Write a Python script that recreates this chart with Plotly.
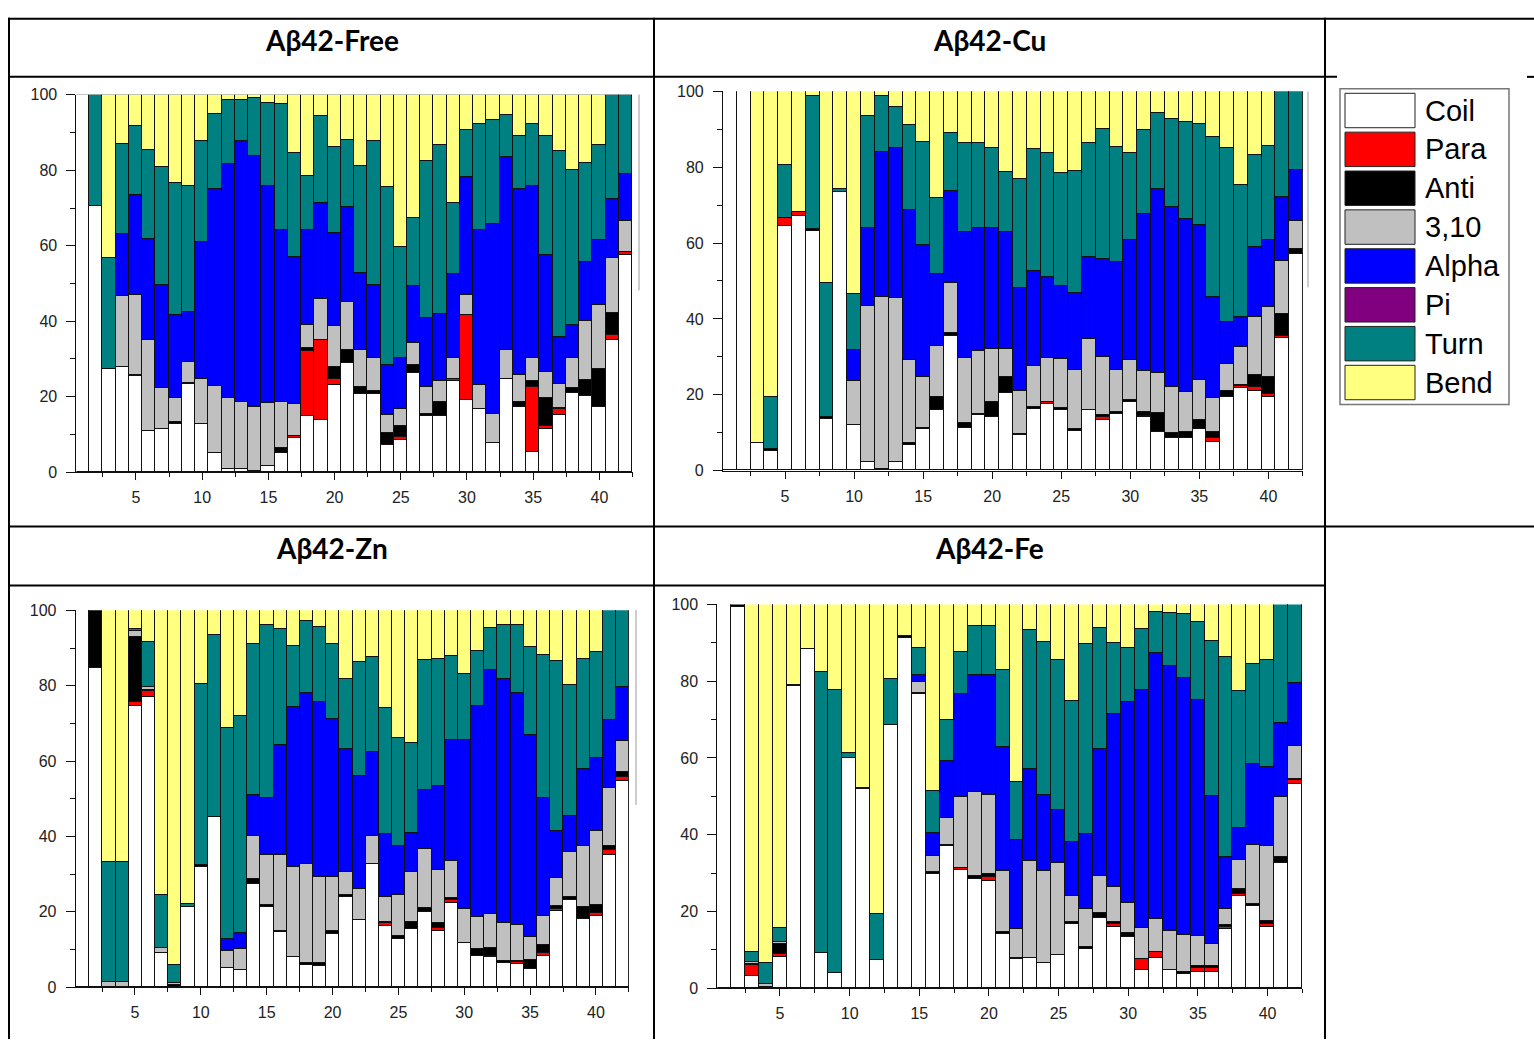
import numpy as np
import plotly.graph_objects as go

W, H = 1534, 1048

CATEGORIES = ["Coil", "Para", "Anti", "3,10", "Alpha", "Pi", "Turn", "Bend"]
COLORS = ["#FFFFFF", "#FF0000", "#000000", "#C0C0C0", "#0000FF", "#800080", "#008080", "#FFFF80"]
RESIDUES = list(range(1, 43))
X_TICKS = [5, 10, 15, 20, 25, 30, 35, 40]
Y_TICKS = [0, 20, 40, 60, 80, 100]
TITLES = ["Aβ42-Free", "Aβ42-Cu", "Aβ42-Zn", "Aβ42-Fe"]

# Cumulative upper boundary (%) of Coil, Para, Anti, 3,10, Alpha, Pi, Turn per residue;
# Bend fills the rest up to 100.
FREE_TOPS = [
    (100, 100, 100, 100, 100, 100, 100),
    (70.7, 70.7, 70.7, 70.7, 70.7, 70.7, 100),
    (27.3, 27.3, 27.3, 27.3, 27.3, 27.3, 56.8),
    (27.9, 27.9, 27.9, 46.6, 63.1, 63.1, 87.1),
    (25.4, 25.4, 25.8, 47.1, 73.5, 73.5, 91.8),
    (10.9, 10.9, 10.9, 35.0, 61.7, 61.7, 85.5),
    (11.5, 11.5, 11.5, 22.3, 49.7, 49.7, 81.0),
    (12.8, 12.8, 13.2, 19.6, 41.7, 41.7, 76.7),
    (23.3, 23.3, 23.7, 29.1, 42.6, 42.6, 76.0),
    (12.8, 12.8, 12.8, 24.6, 61.1, 61.1, 87.8),
    (5.0, 5.0, 5.0, 22.9, 75.0, 75.0, 95.0),
    (0.9, 0.9, 0.9, 19.7, 81.7, 81.7, 98.6),
    (0.9, 0.9, 0.9, 18.5, 87.7, 87.7, 98.8),
    (0.2, 0.2, 0.2, 17.4, 83.7, 83.7, 99.1),
    (1.7, 1.7, 1.7, 18.3, 76.0, 76.0, 98.0),
    (5.0, 5.0, 6.5, 18.5, 64.3, 64.3, 97.6),
    (9.0, 9.5, 9.5, 18.0, 57.0, 57.0, 84.5),
    (14.8, 32.2, 33.0, 38.9, 64.3, 64.3, 78.4),
    (13.9, 35.0, 35.0, 45.8, 71.3, 71.3, 94.4),
    (23.0, 24.8, 27.8, 38.7, 63.5, 63.5, 86.1),
    (29.0, 29.0, 32.3, 45.2, 70.4, 70.4, 88.1),
    (20.6, 20.6, 22.6, 32.4, 52.9, 52.9, 81.2),
    (20.6, 20.6, 21.6, 30.3, 49.6, 49.6, 87.8),
    (7.2, 7.2, 10.3, 15.2, 28.5, 28.5, 75.7),
    (8.5, 9.4, 12.3, 16.8, 30.2, 30.2, 59.6),
    (26.3, 26.3, 28.4, 34.3, 49.4, 49.4, 67.4),
    (14.8, 14.8, 15.5, 22.6, 40.9, 40.9, 82.6),
    (15.0, 15.0, 18.5, 24.2, 42.0, 42.0, 86.7),
    (24.3, 24.8, 24.8, 30.3, 52.6, 52.6, 71.3),
    (19.1, 41.6, 41.6, 47.0, 78.3, 78.3, 90.7),
    (16.7, 16.7, 16.7, 23.0, 64.3, 64.3, 92.3),
    (7.8, 7.8, 7.8, 15.5, 65.7, 65.7, 93.5),
    (24.8, 24.8, 24.8, 32.4, 83.5, 83.5, 94.8),
    (17.2, 17.2, 18.5, 25.8, 75.0, 75.0, 89.1),
    (5.4, 22.6, 24.2, 30.4, 75.8, 75.8, 92.2),
    (11.5, 12.2, 19.8, 26.5, 57.7, 57.7, 89.0),
    (15.2, 16.7, 17.1, 23.3, 35.9, 35.9, 85.2),
    (21.0, 21.0, 22.2, 30.3, 38.9, 38.9, 80.2),
    (20.3, 20.3, 24.5, 40.0, 55.7, 55.7, 82.0),
    (17.4, 17.4, 27.4, 44.3, 61.6, 61.6, 86.7),
    (35.0, 36.5, 42.3, 56.8, 72.5, 72.5, 100),
    (57.7, 58.3, 58.3, 66.5, 79.0, 79.0, 100),
]

CU_TOPS = [
    (100, 100, 100, 100, 100, 100, 100),
    (100, 100, 100, 100, 100, 100, 100),
    (7.1, 7.1, 7.1, 7.1, 7.1, 7.1, 7.1),
    (5.2, 5.2, 5.6, 5.6, 5.6, 5.6, 19.4),
    (64.4, 66.4, 66.4, 66.4, 66.4, 66.4, 80.4),
    (67.0, 68.0, 68.0, 68.0, 68.0, 68.0, 68.0),
    (63.1, 63.1, 63.5, 63.5, 63.5, 63.5, 98.7),
    (13.6, 13.6, 14.0, 14.0, 14.0, 14.0, 49.3),
    (73.3, 73.3, 73.3, 73.3, 73.3, 73.3, 74.2),
    (11.9, 11.9, 11.9, 23.6, 31.7, 31.7, 46.4),
    (2.3, 2.3, 2.3, 43.4, 64.0, 64.0, 93.3),
    (0.4, 0.4, 0.4, 45.8, 83.8, 83.8, 98.8),
    (2.3, 2.3, 2.3, 45.5, 84.9, 84.9, 95.8),
    (6.7, 6.7, 7.1, 29.0, 68.5, 68.5, 91.0),
    (10.8, 10.8, 11.1, 24.6, 59.4, 59.4, 86.6),
    (16.0, 16.0, 19.4, 32.8, 51.7, 51.7, 71.9),
    (35.4, 35.4, 36.2, 49.3, 73.7, 73.7, 88.8),
    (11.2, 11.2, 12.5, 29.6, 62.9, 62.9, 86.2),
    (14.5, 14.5, 14.9, 31.4, 63.8, 63.8, 86.2),
    (14.1, 14.1, 18.1, 31.9, 63.8, 63.8, 85.1),
    (20.5, 20.5, 24.6, 31.9, 62.9, 62.9, 78.7),
    (9.3, 9.3, 9.7, 20.9, 48.2, 48.2, 76.7),
    (16.2, 16.2, 16.7, 27.6, 52.5, 52.5, 84.7),
    (17.5, 18.0, 18.0, 29.6, 50.9, 50.9, 83.6),
    (16.0, 16.0, 16.4, 29.4, 48.7, 48.7, 78.5),
    (10.5, 10.5, 11.0, 26.5, 46.7, 46.7, 78.9),
    (16.0, 16.0, 16.0, 34.6, 56.2, 56.2, 86.4),
    (13.4, 14.0, 14.7, 29.8, 55.7, 55.7, 90.1),
    (14.9, 14.9, 15.3, 26.5, 54.9, 54.9, 85.3),
    (17.9, 17.9, 18.6, 29.0, 60.7, 60.7, 83.6),
    (14.0, 14.4, 15.4, 26.1, 67.7, 67.7, 89.7),
    (10.2, 10.2, 15.1, 25.7, 74.1, 74.1, 94.2),
    (8.5, 8.5, 9.9, 22.0, 69.3, 69.3, 92.5),
    (8.6, 8.6, 10.2, 20.7, 66.3, 66.3, 91.8),
    (11.0, 11.0, 13.4, 23.8, 64.8, 64.8, 91.4),
    (7.6, 8.5, 10.1, 19.2, 45.8, 45.8, 88.0),
    (19.4, 19.4, 20.9, 28.1, 39.1, 39.1, 85.1),
    (21.8, 22.2, 22.6, 32.6, 40.4, 40.4, 75.2),
    (20.9, 22.0, 25.2, 40.4, 58.8, 58.8, 83.2),
    (19.3, 20.1, 24.6, 43.0, 60.8, 60.8, 85.4),
    (35.0, 35.3, 41.2, 55.1, 72.0, 72.0, 100),
    (57.0, 57.0, 58.3, 65.7, 79.1, 79.1, 100),
]

ZN_TOPS = [
    (100, 100, 100, 100, 100, 100, 100),
    (84.6, 84.6, 100, 100, 100, 100, 100),
    (0, 0, 0, 1.3, 1.3, 1.3, 33.0),
    (0, 0, 0, 1.3, 1.3, 1.3, 33.0),
    (74.6, 75.6, 92.9, 94.3, 94.3, 94.3, 94.9),
    (77.0, 78.5, 78.9, 79.5, 79.5, 79.5, 91.6),
    (9.1, 9.1, 9.1, 10.2, 10.2, 10.2, 24.3),
    (0, 0, 0.5, 1.0, 1.0, 1.0, 5.8),
    (21.1, 21.1, 21.1, 21.1, 21.1, 21.1, 21.9),
    (31.9, 31.9, 32.4, 32.4, 32.4, 32.4, 80.4),
    (45.0, 45.0, 45.0, 45.0, 45.0, 45.0, 93.3),
    (5.1, 5.1, 5.1, 9.5, 12.6, 12.6, 68.8),
    (4.5, 4.5, 4.5, 9.9, 14.4, 14.4, 71.8),
    (27.4, 27.4, 28.7, 39.9, 50.9, 50.9, 90.9),
    (21.2, 21.2, 21.8, 35.0, 50.2, 50.2, 95.9),
    (14.5, 14.5, 14.8, 35.0, 64.1, 64.1, 95.0),
    (8.0, 8.0, 8.0, 31.9, 74.2, 74.2, 90.4),
    (5.8, 5.8, 6.4, 32.6, 78.1, 78.1, 97.0),
    (5.4, 5.4, 6.4, 29.2, 75.7, 75.7, 95.5),
    (13.9, 13.9, 14.7, 29.2, 71.1, 71.1, 90.9),
    (23.9, 23.9, 24.3, 30.5, 63.0, 63.0, 81.7),
    (17.6, 17.6, 17.8, 26.0, 55.9, 55.9, 86.2),
    (32.5, 32.5, 32.5, 39.9, 62.4, 62.4, 87.5),
    (16.1, 16.9, 17.1, 23.9, 40.5, 40.5, 74.0),
    (12.6, 12.6, 13.5, 24.4, 37.3, 37.3, 66.1),
    (15.4, 15.4, 17.1, 30.4, 40.9, 40.9, 64.8),
    (19.8, 19.8, 20.8, 36.7, 52.2, 52.2, 86.6),
    (14.8, 15.6, 17.0, 31.1, 53.4, 53.4, 87.0),
    (22.2, 23.1, 23.5, 33.4, 65.6, 65.6, 87.9),
    (11.5, 11.5, 11.5, 20.6, 65.4, 65.4, 83.0),
    (8.3, 8.3, 9.9, 18.5, 74.4, 74.4, 89.1),
    (8.0, 8.3, 10.2, 19.3, 84.2, 84.2, 95.3),
    (6.4, 6.4, 6.9, 17.0, 81.8, 81.8, 96.1),
    (6.1, 6.5, 6.9, 16.5, 77.9, 77.9, 95.9),
    (4.8, 4.8, 7.1, 13.2, 66.8, 66.8, 90.3),
    (8.3, 8.9, 11.2, 18.7, 50.2, 50.2, 88.1),
    (20.2, 20.6, 21.5, 28.9, 41.3, 41.3, 86.5),
    (23.0, 23.0, 23.8, 35.9, 45.2, 45.2, 80.2),
    (18.0, 18.0, 21.2, 37.3, 57.9, 57.9, 87.0),
    (18.9, 19.5, 21.8, 41.3, 60.7, 60.7, 88.8),
    (35.0, 36.3, 37.4, 52.8, 70.7, 70.7, 100),
    (54.7, 55.6, 56.9, 65.3, 79.6, 79.6, 100),
]

FE_TOPS = [
    (100, 100, 100, 100, 100, 100, 100),
    (99.1, 99.1, 100, 100, 100, 100, 100),
    (3.0, 5.8, 6.2, 6.7, 6.7, 6.7, 9.2),
    (0.3, 0.3, 0.3, 0.9, 0.9, 0.9, 6.5),
    (7.9, 8.8, 11.4, 12.0, 12.0, 12.0, 15.5),
    (78.6, 78.6, 78.9, 78.9, 78.9, 78.9, 78.9),
    (88.3, 88.3, 88.3, 88.3, 88.3, 88.3, 88.3),
    (9.1, 9.1, 9.1, 9.1, 9.1, 9.1, 82.3),
    (3.7, 3.7, 3.7, 3.7, 3.7, 3.7, 77.6),
    (59.8, 59.8, 59.8, 59.8, 59.8, 59.8, 61.2),
    (51.8, 51.8, 52.1, 52.1, 52.1, 52.1, 52.1),
    (7.3, 7.3, 7.3, 7.3, 7.3, 7.3, 19.2),
    (68.4, 68.4, 68.4, 68.4, 68.4, 68.4, 80.4),
    (91.1, 91.1, 91.7, 91.7, 91.7, 91.7, 91.7),
    (76.6, 76.9, 76.9, 79.6, 81.5, 81.5, 88.5),
    (29.7, 29.7, 30.2, 34.2, 40.3, 40.3, 51.2),
    (36.8, 36.8, 37.3, 44.1, 59.1, 59.1, 69.7),
    (30.8, 31.2, 31.2, 49.7, 76.5, 76.5, 87.6),
    (28.3, 28.3, 29.1, 50.9, 81.6, 81.6, 94.3),
    (27.9, 28.9, 29.7, 50.1, 81.6, 81.6, 94.3),
    (13.9, 13.9, 14.4, 30.4, 62.6, 62.6, 82.7),
    (7.5, 7.5, 7.8, 15.2, 38.5, 38.5, 53.5),
    (7.7, 7.7, 7.7, 33.0, 57.1, 57.1, 93.2),
    (6.5, 6.5, 6.5, 30.4, 50.3, 50.3, 90.0),
    (8.5, 8.5, 8.5, 32.6, 46.2, 46.2, 85.5),
    (16.7, 16.7, 17.1, 23.8, 37.9, 37.9, 74.8),
    (10.1, 10.1, 10.5, 20.6, 40.0, 40.0, 89.6),
    (18.2, 18.2, 19.5, 29.1, 62.2, 62.2, 93.7),
    (15.9, 16.5, 17.2, 26.3, 71.4, 71.4, 89.8),
    (13.2, 13.2, 14.2, 22.1, 74.4, 74.4, 88.5),
    (4.7, 7.4, 7.4, 15.6, 77.6, 77.6, 93.6),
    (7.8, 9.2, 9.2, 17.8, 87.3, 87.3, 97.9),
    (4.5, 4.5, 4.5, 14.8, 83.8, 83.8, 97.7),
    (3.5, 3.5, 4.1, 13.8, 80.6, 80.6, 97.4),
    (4.1, 5.1, 5.6, 13.5, 74.9, 74.9, 95.3),
    (4.1, 5.1, 5.6, 11.4, 50.0, 50.0, 90.3),
    (15.2, 15.8, 16.3, 20.5, 34.0, 34.0, 86.3),
    (24.0, 24.4, 25.7, 33.4, 41.5, 41.5, 77.4),
    (21.2, 21.2, 21.8, 37.2, 58.2, 58.2, 84.3),
    (15.8, 16.5, 17.4, 37.0, 57.4, 57.4, 85.5),
    (32.5, 32.5, 34.0, 49.8, 69.1, 69.1, 100),
    (53.2, 54.1, 54.4, 63.1, 79.3, 79.3, 100),
]

PANEL_DATA = [FREE_TOPS, CU_TOPS, ZN_TOPS, FE_TOPS]

# ---- layout constants (pixel boxes of the plot areas: x0, x1, ytop, ybottom) ----
BOXES = [(76.4, 632.5, 88.3, 471.7),
         (722.9, 1302.9, 84.7, 470.3),
         (75.7, 628.9, 612.3, 995.3),
         (717.3, 1302.4, 606.3, 996.3)]
TITLE_POS = [(331.5, 33), (989.5, 33), (331.5, 549), (989.5, 549)]


def px(x):
    return x / W


def py(y):
    return 1 - y / H


def segment_values(tops):
    t = np.array(tops, dtype=float)
    full = np.column_stack([np.zeros(len(t)), t, np.full(len(t), 100.0)])
    return np.diff(full, axis=1)


fig = go.Figure()
TICKFONT = dict(family="Liberation Sans, Arial, sans-serif", size=16, color="#222")

for k, tops in enumerate(PANEL_DATA, start=1):
    vals = segment_values(tops)
    for i, cat in enumerate(CATEGORIES):
        yv = [float(v) if v > 0.05 else None for v in vals[:, i]]
        fig.add_trace(go.Bar(
            x=RESIDUES, y=yv, name=cat, width=1,
            marker=dict(color=COLORS[i], line=dict(color="#111", width=1)),
            xaxis=f"x{k}", yaxis=f"y{k}", showlegend=False, cliponaxis=False,
        ))
    x0, x1, yt, yb = BOXES[k - 1]
    sfx = "" if k == 1 else str(k)
    fig.layout[f"xaxis{sfx}"] = dict(
        domain=[px(x0), px(x1)], anchor=f"y{sfx}" if sfx else "y",
        range=[0.5, 42.5], tickmode="array", tickvals=X_TICKS,
        ticks="outside", ticklen=7, tickwidth=1, tickcolor="#111",
        minor=dict(tick0=0, dtick=2.5, ticks="outside", ticklen=4, tickcolor="#111"),
        showline=True, linecolor="#111", linewidth=1, showgrid=False, zeroline=False,
        tickfont=TICKFONT, ticklabelstandoff=4, fixedrange=True,
    )
    fig.layout[f"yaxis{sfx}"] = dict(
        domain=[py(yb), py(yt)], anchor=f"x{sfx}" if sfx else "x",
        range=[0, 100], tickmode="array", tickvals=Y_TICKS,
        ticks="outside", ticklen=9, tickwidth=1, tickcolor="#111",
        minor=dict(tick0=0, dtick=10, ticks="outside", ticklen=5, tickcolor="#111"),
        showline=True, linecolor="#111", linewidth=1, showgrid=False, zeroline=False,
        tickfont=TICKFONT, ticklabelstandoff=6, fixedrange=True,
    )

shapes = []
annotations = []


def hline(y, xa, xb, w=2, c="#000"):
    shapes.append(dict(type="line", xref="paper", yref="paper",
                       x0=px(xa), x1=px(xb), y0=py(y), y1=py(y),
                       line=dict(color=c, width=w)))


def vline(x, ya, yb, w=2, c="#000"):
    shapes.append(dict(type="line", xref="paper", yref="paper",
                       x0=px(x), x1=px(x), y0=py(ya), y1=py(yb),
                       line=dict(color=c, width=w)))


# table grid
hline(11, 8, 1534)
hline(70, 8, 1337)
hline(70, 1527, 1534)
hline(527, 8, 1534)
hline(587, 8, 1325)
vline(9, 10, 1048)
vline(654, 10, 1048)
vline(1325, 10, 1048)

# cropped legend-frame remnants at the right of three plots
vline(639, 88, 287, w=1, c="#999")
vline(1308, 85, 284, w=1, c="#999")
vline(636, 612, 810, w=1, c="#999")

# titles
for (tx, ty), t in zip(TITLE_POS, TITLES):
    annotations.append(dict(text=f"<b>{t}</b>", x=px(tx), y=py(ty), xref="paper", yref="paper",
                            xanchor="center", yanchor="middle", showarrow=False,
                            font=dict(family="Lato, Noto Sans, sans-serif", size=28, color="#000")))

# legend box
shapes.append(dict(type="rect", xref="paper", yref="paper",
                   x0=px(1340), x1=px(1509), y0=py(403), y1=py(82),
                   line=dict(color="#777", width=1.5), fillcolor="#FFFFFF"))
for i, cat in enumerate(CATEGORIES):
    y0 = 86.7 + i * 39.5
    y1 = y0 + 35
    shapes.append(dict(type="rect", xref="paper", yref="paper",
                       x0=px(1345), x1=px(1415), y0=py(y1), y1=py(y0),
                       line=dict(color="#222", width=1), fillcolor=COLORS[i]))
    annotations.append(dict(text=cat, x=px(1423), y=py((y0 + y1) / 2), xref="paper", yref="paper",
                            xanchor="left", yanchor="middle", showarrow=False,
                            font=dict(family="Liberation Sans, Arial, sans-serif", size=29, color="#000")))

fig.update_layout(
    width=W, height=H, margin=dict(l=0, r=0, t=0, b=0),
    paper_bgcolor="#FFFFFF", plot_bgcolor="#FFFFFF",
    barmode="stack", bargap=0, shapes=shapes, annotations=annotations,
    showlegend=False,
)

fig.write_html(
    "out.html",
    config={"displayModeBar": False},
    post_script="document.body.style.margin='0';document.body.style.overflow='hidden';",
)
